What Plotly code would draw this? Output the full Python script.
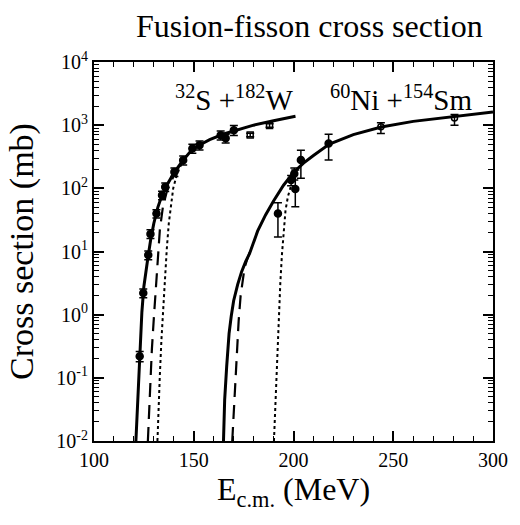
import plotly.graph_objects as go

# ---- measured data: 32S + 182W ----
sw_energy = [122.9, 124.7, 127.2, 128.3, 131.3, 134.1, 135.7, 140.3, 144.7, 149.3, 152.9, 163.5, 166.0, 170.1]
sw_sigma = [0.22, 2.2, 8.8, 19, 40, 78, 105, 182, 279, 428, 483, 695, 620, 834]
sw_err = [0.04, 0.35, 1.4, 3, 6, 12, 16, 28, 45, 70, 80, 115, 100, 150]
sw_open_energy = [178.3, 188.0]
sw_open_sigma = [700, 990]
sw_open_err = [45, 60]

# ---- measured data: 60Ni + 154Sm ----
ns_energy = [192.2, 198.8, 200.4, 200.9, 203.7, 217.6]
ns_sigma = [40, 135, 170, 98, 280, 513]
ns_err_up = [19, 25, 40, 97, 120, 207]
ns_err_down = [23, 25, 35, 47, 136, 233]
ns_open_energy = [243.8, 280.7]
ns_open_sigma = [940, 1300]
ns_open_err_up = [150, 180]
ns_open_err_down = [200, 300]

# ---- calculations: 32S + 182W ----
sw_full_E = [121.0, 122.0, 123.0, 124.0, 125.0, 126.0, 127.0, 128.5, 130.0, 132.0, 134.0, 136.0,
             138.0, 140.0, 144.0, 148.0, 152.0, 158.0, 165.0, 172.0, 180.0, 190.0, 201.0]
sw_full_sigma = [0.01, 0.052, 0.25, 1.1, 2.8, 5.0, 7.9, 16, 28, 50, 76, 105,
                 135, 174, 263, 372, 468, 589, 724, 851, 1000, 1175, 1380]
sw_dash_E = [127.0, 127.5, 128.0, 129.0, 130.0, 131.0, 132.0, 133.0, 134.5, 136.5, 138.5, 140.5, 144.0]
sw_dash_sigma = [0.01, 0.025, 0.063, 0.28, 0.89, 2.5, 8.9, 22, 50, 89, 126, 170, 257]
sw_dot_E = [131.8, 132.3, 133.0, 133.8, 134.6, 135.5, 136.5, 137.5, 138.5, 139.7, 141.2, 143.0, 146.0]
sw_dot_sigma = [0.01, 0.035, 0.11, 0.4, 1.26, 4.0, 11.2, 28, 56, 100, 151, 214, 316]

# ---- calculations: 60Ni + 154Sm ----
ns_full_E = [164.9, 165.5, 166.5, 167.7, 168.8, 170.0, 172.0, 174.0, 176.0, 178.0, 182.0, 186.0, 190.0,
             195.0, 200.0, 205.0, 210.0, 218.0, 230.0, 244.0, 260.0, 280.0, 300.0]
ns_full_sigma = [0.01, 0.045, 0.15, 0.5, 0.95, 1.66, 3.0, 4.8, 6.9, 9.3, 21, 38, 63,
                 112, 178, 251, 331, 501, 708, 933, 1148, 1349, 1622]
ns_dash_E = [169.3, 169.8, 170.3, 171.0, 171.7, 172.5, 173.5, 174.5, 175.5, 177.0, 179.0]
ns_dash_sigma = [0.01, 0.02, 0.045, 0.126, 0.32, 0.79, 2.0, 3.5, 5.6, 7.9, 11.5]
ns_dot_E = [190.2, 190.8, 191.4, 192.0, 192.7, 193.4, 194.2, 195.0, 196.0, 197.2, 198.5, 200.0, 202.0]
ns_dot_sigma = [0.01, 0.032, 0.081, 0.28, 0.93, 3.2, 8.9, 22, 45, 74, 107, 151, 204]

x_ticks = [100, 150, 200, 250, 300]
y_tick_vals = [1e-2, 1e-1, 1e0, 1e1, 1e2, 1e3, 1e4]
y_tick_text = ["10<sup>-2</sup>", "10<sup>-1</sup>", "10<sup>0</sup>", "10<sup>1</sup>",
               "10<sup>2</sup>", "10<sup>3</sup>", "10<sup>4</sup>"]

FONT = "Liberation Serif"

fig = go.Figure()


def curve(x, y, dash, width):
    fig.add_trace(go.Scatter(x=x, y=y, mode="lines",
                             line=dict(color="black", width=width, dash=dash),
                             showlegend=False, hoverinfo="skip"))


curve(sw_dot_E, sw_dot_sigma, "3px,3px", 2)
curve(sw_dash_E, sw_dash_sigma, "14px,8px", 2.2)
curve(sw_full_E, sw_full_sigma, "solid", 3)
curve(ns_dot_E, ns_dot_sigma, "3px,3px", 2)
curve(ns_dash_E, ns_dash_sigma, "14px,8px", 2.2)
curve(ns_full_E, ns_full_sigma, "solid", 3)


def points(x, y, up, down, symbol, size):
    fig.add_trace(go.Scatter(
        x=x, y=y, mode="markers",
        marker=dict(symbol=symbol, size=size, color="black",
                    line=dict(color="black", width=1.5)),
        error_y=dict(type="data", array=up, arrayminus=down, symmetric=False,
                     color="black", thickness=1.5, width=4),
        showlegend=False, hoverinfo="skip"))


points(sw_energy, sw_sigma, sw_err, sw_err, "circle", 7)
points(sw_open_energy, sw_open_sigma, sw_open_err, sw_open_err, "square-open", 6)
points(ns_energy, ns_sigma, ns_err_up, ns_err_down, "circle", 7)
points(ns_open_energy, ns_open_sigma, ns_open_err_up, ns_open_err_down, "circle-open", 6)

axis_common = dict(
    showline=True, linecolor="black", linewidth=2, mirror="ticks",
    ticks="inside", tickcolor="black", tickwidth=1.5, ticklen=10,
    showgrid=False, zeroline=False,
    tickfont=dict(family=FONT, size=20, color="black"),
)

fig.update_xaxes(
    range=[100, 300], tickvals=x_ticks, ticktext=[str(v) for v in x_ticks],
    minor=dict(ticks="inside", dtick=10, ticklen=5, tickwidth=1.2, tickcolor="black", showgrid=False),
    title=dict(text="E<sub>c.m.</sub> (MeV)", font=dict(family=FONT, size=32, color="black"), standoff=6),
    **axis_common)

fig.update_yaxes(
    type="log", range=[-2, 4], tickvals=y_tick_vals, ticktext=y_tick_text,
    minor=dict(ticks="inside", dtick="D1", ticklen=5, tickwidth=1.2, tickcolor="black", showgrid=False),
    title=dict(text="Cross section (mb)", font=dict(family=FONT, size=34, color="black"), standoff=12),
    **axis_common)

fig.add_annotation(x=0.35, y=0.905, xref="paper", yref="paper", xanchor="center", yanchor="middle",
                   text="<sup>32</sup>S +<sup>182</sup>W", showarrow=False,
                   font=dict(family=FONT, size=29, color="black"))
fig.add_annotation(x=0.77, y=0.905, xref="paper", yref="paper", xanchor="center", yanchor="middle",
                   text="<sup>60</sup>Ni +<sup>154</sup>Sm", showarrow=False,
                   font=dict(family=FONT, size=29, color="black"))

fig.update_layout(
    width=520, height=525,
    margin=dict(l=94, r=19, t=62, b=84),
    paper_bgcolor="white", plot_bgcolor="white",
    font=dict(family=FONT, color="black"),
    title=dict(text="Fusion-fisson cross section", x=0.595, xanchor="center", y=0.95, yanchor="middle",
               font=dict(family=FONT, size=32, color="black")),
)

fig.write_html("out.html")
